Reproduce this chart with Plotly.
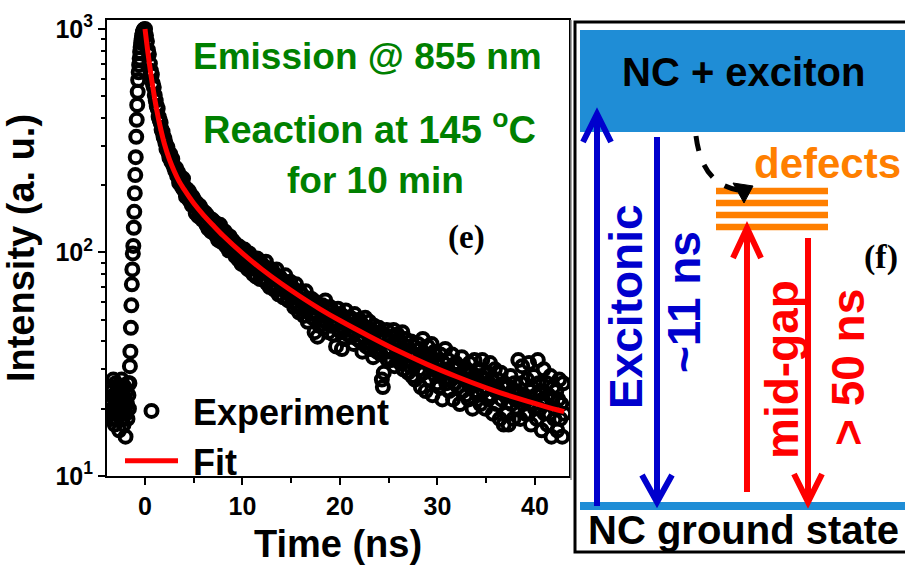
import numpy as np
import plotly.graph_objects as go

W, H = 905, 565
SANS = "Liberation Sans, Arial, sans-serif"
SERIF = "Liberation Serif, Times New Roman, serif"
GREEN = "#008000"
BLUE = "#0000CD"
RED = "#FF0000"
ORANGE = "#FF7F00"
BAND = "#1F8DD6"

# ---------------- time-resolved PL decay (photon counts) ----------------
pre_t0, rise_t0, decay_t0 = -3.6, -1.6, 0.1
fine_step, coarse_step = 0.05, 0.1

pre_counts = [22, 19, 25, 21, 18, 24, 20, 27, 23, 19, 17, 22, 26, 20, 18, 23, 21, 25, 19, 16,
              22, 24, 20, 18, 27, 21, 19, 23, 17, 20, 25, 22, 15, 19, 24, 21, 18, 26, 23, 20]

rise_counts = [26, 31, 36, 46, 58, 72, 84, 99, 107, 129,
               152, 184, 222, 267, 329, 392, 457, 523, 591, 640,
               690, 738, 789, 828, 866, 901, 930, 955, 972, 986,
               995, 992, 1000]

decay_counts = [
    935, 880, 805, 770, 700, 650, 625, 570, 548, 505,
    478, 452, 440, 405, 392, 380, 355, 347, 330, 322,
    308, 290, 296, 280, 266, 275, 255, 262, 246, 240,
    232, 238, 220, 228, 205, 219, 210, 196, 214, 190,
    195, 178, 192, 176, 188, 170, 181, 163, 177, 172,
    170, 150, 166, 158, 145, 162, 149, 156, 140, 152,
    139, 150, 133, 146, 128, 142, 137, 124, 140, 130,
    124, 136, 119, 131, 114, 127, 133, 112, 122, 117,
    112, 124, 107, 119, 115, 102, 118, 109, 104, 113,
    101, 110, 96, 108, 99, 93, 106, 98, 89, 102,
    94, 103, 87, 97, 91, 84, 99, 90, 95, 86,
    80, 92, 86, 78, 94, 83, 88, 76, 90, 81,
    87, 76, 82, 91, 73, 80, 85, 70, 79, 84,
    72, 81, 68, 76, 84, 70, 65, 78, 73, 69,
    75, 63, 70, 79, 66, 72, 61, 68, 74, 64,
    60, 69, 57, 65, 72, 58, 63, 54, 67, 61,
    56, 64, 52, 60, 67, 55, 49, 62, 58, 53,
    62, 51, 57, 44, 60, 54, 42, 58, 47, 55,
    50, 58, 46, 53, 61, 49, 55, 44, 52, 57,
    47, 55, 43, 50, 53, 38, 48, 56, 45, 51,
    44, 37, 52, 46, 41, 55, 48, 43, 50, 45,
    51, 42, 47, 39, 53, 44, 48, 41, 46, 50,
    40, 48, 36, 45, 42, 51, 38, 46, 43, 49,
    37, 45, 41, 34, 47, 39, 44, 36, 42, 46,
    43, 35, 27, 25, 29, 41, 37, 45, 33, 40,
    36, 42, 33, 39, 45, 31, 38, 35, 43, 34,
    39, 32, 37, 44, 30, 35, 41, 33, 38, 29,
    36, 31, 40, 28, 34, 38, 27, 35, 32, 39,
    30, 37, 25, 33, 41, 29, 35, 24, 32, 38,
    34, 27, 31, 39, 23, 30, 36, 28, 33, 26,
    31, 25, 35, 28, 22, 32, 29, 37, 26, 30,
    33, 24, 29, 27, 35, 22, 30, 26, 32, 28,
    25, 31, 21, 28, 34, 24, 27, 30, 23, 29,
    27, 22, 32, 25, 29, 20, 26, 33, 24, 28,
    23, 30, 26, 21, 28, 33, 24, 27, 20, 25,
    29, 22, 26, 32, 23, 27, 19, 25, 30, 24,
    21, 27, 24, 18, 29, 22, 25, 17, 26, 23,
    19, 25, 17, 23, 28, 21, 24, 18, 26, 22,
    24, 20, 33, 22, 18, 26, 31, 21, 23, 19,
    22, 27, 19, 32, 24, 17, 25, 21, 28, 20,
    23, 18, 33, 26, 20, 24, 16, 22, 30, 19,
    21, 26, 17, 23, 19, 28, 15, 22, 25, 18,
    20, 24, 16, 22, 27, 18, 21, 15, 26, 19,
]

fit_t = [0, 0.2, 0.4, 0.6, 0.8, 1.0, 1.3, 1.6, 2.0, 2.5, 3.0, 3.5, 4.0, 5.0, 6.0, 7.0,
         8.0, 10, 12, 14, 16, 18, 20, 23, 26, 29, 32, 35, 38, 41, 43]
fit_counts = [1000, 848, 726, 628, 550, 486, 413, 358, 305, 261, 231, 208, 192, 166, 147, 132,
              119, 99, 84, 72.4, 63.2, 55.7, 49.6, 42.2, 36.2, 31.5, 27.8, 24.8, 22.4, 20.5, 19.4]

x_ticks = [0, 10, 20, 30, 40]
x_minor = [5, 15, 25, 35]
y_ticks = [10, 100, 1000]
y_ticktext = ["10<sup>1</sup>", "10<sup>2</sup>", "10<sup>3</sup>"]
y_minor = [m * 10 ** k for k in (1, 2) for m in range(2, 10)]

t_pre = pre_t0 + fine_step * np.arange(len(pre_counts))
t_rise = rise_t0 + fine_step * np.arange(len(rise_counts))
t_decay = decay_t0 + coarse_step * np.arange(len(decay_counts))
t_exp = np.round(np.concatenate([t_pre, t_rise, t_decay]), 3)
c_exp = np.concatenate([pre_counts, rise_counts, decay_counts])

fig = go.Figure()
fig.add_trace(go.Scatter(
    x=t_exp, y=c_exp, mode="markers", name="&nbsp;Experiment",
    marker=dict(symbol="circle-open", size=12, color="black", line=dict(width=4, color="black")),
))
fig.add_trace(go.Scatter(
    x=fit_t, y=fit_counts, mode="lines", name="&nbsp;Fit",
    line=dict(color=RED, width=5, shape="spline", smoothing=0.8),
))


def px(x):
    return x / W


def py(y):
    return 1 - y / H


tickfont = dict(family=SANS, size=25, color="black", weight="bold")
fig.update_layout(
    width=W, height=H,
    margin=dict(l=0, r=0, t=0, b=0, autoexpand=False),
    paper_bgcolor="white", plot_bgcolor="white",
    showlegend=True,
    legend=dict(x=px(120), y=py(381), xanchor="left", yanchor="top",
                bgcolor="rgba(0,0,0,0)", font=dict(family=SANS, size=36, color="black", weight="bold"),
                itemwidth=53, tracegroupgap=0),
    xaxis=dict(
        domain=[px(107), px(569)], range=[-3.9, 43.5],
        showline=True, linecolor="black", linewidth=2, mirror=True,
        showgrid=False, zeroline=False, automargin=False,
        ticks="outside", ticklen=7, tickwidth=2, tickcolor="black",
        tickmode="array", tickvals=x_ticks, tickfont=tickfont,
        minor=dict(tickmode="array", tickvals=x_minor, ticks="outside", ticklen=5,
                   tickwidth=2, tickcolor="black", showgrid=False),
        title=dict(text="Time (ns)", font=dict(family=SANS, size=38, color="black", weight="bold"),
                   standoff=15),
    ),
    yaxis=dict(
        type="log", domain=[py(476), py(20)], range=[1, 3.04],
        showline=True, linecolor="black", linewidth=2, mirror=True,
        showgrid=False, zeroline=False, automargin=False,
        ticks="outside", ticklen=7, tickwidth=2, tickcolor="black",
        tickmode="array", tickvals=y_ticks, ticktext=y_ticktext, tickfont=tickfont,
        minor=dict(tickmode="array", tickvals=y_minor, ticks="outside", ticklen=4,
                   tickwidth=1.5, tickcolor="black", showgrid=False),
        title=dict(text="Intensity (a. u.)", font=dict(family=SANS, size=38, color="black", weight="bold"),
                   standoff=9),
    ),
)


def label(text, x, y, size, color="black", family=SANS, angle=0, xanchor="center"):
    fig.add_annotation(text=text, x=px(x), y=py(y), xref="paper", yref="paper",
                       xanchor=xanchor, yanchor="middle", textangle=angle, showarrow=False,
                       font=dict(family=family, size=size, color=color, weight="bold"))


# panel (e) captions
label("Emission @ 855 nm", 367, 57, 37, GREEN)
label("Reaction at 145 <sup>o</sup>C", 369, 127, 38, GREEN)
label("for 10 min", 375, 180, 37, GREEN)
label("(e)", 466, 237, 33, family=SERIF)

# ---------------- panel (f): energy-level scheme ----------------
shapes = []


def rect(x0, y0, x1, y1, fill=None, line=None, lw=0):
    shapes.append(dict(type="rect", xref="paper", yref="paper",
                       x0=px(x0), x1=px(x1), y0=py(y1), y1=py(y0),
                       fillcolor=fill if fill else "rgba(0,0,0,0)",
                       line=dict(color=line if line else "rgba(0,0,0,0)", width=lw), layer="above"))


def path(d_points, color, width, dash="solid", fill=None, closed=False):
    d = "M " + " L ".join(f"{px(x):.5f},{py(y):.5f}" for x, y in d_points)
    if closed:
        d += " Z"
    shapes.append(dict(type="path", xref="paper", yref="paper", path=d,
                       line=dict(color=color, width=width, dash=dash),
                       fillcolor=fill if fill else "rgba(0,0,0,0)", layer="above"))


def arrow(x, y_from, y_to, color, half=14, length=28):
    sgn = 1 if y_to < y_from else -1
    path([(x, y_from), (x, y_to)], color, 6)
    path([(x - half, y_to + sgn * length), (x, y_to), (x + half, y_to + sgn * length)], color, 6)


# frame of the scheme
path([(571, 20), (571, 480)], "#888888", 1.5)
rect(575, 22, 915, 552, line="black", lw=3)
# exciton band and ground-state level
rect(580, 30, 910, 132, fill=BAND)
rect(580, 502, 910, 510, fill=BAND)
# defect (mid-gap) levels
for yc in (191, 203, 215, 227):
    rect(716, yc - 3.2, 828, yc + 3.2, fill=ORANGE)

# transitions
arrow(597, 506, 114, BLUE, 14, 28)
arrow(657, 137, 502, BLUE, 15, 27)
arrow(747, 492, 228, RED, 14, 30)
arrow(808, 238, 502, RED, 14, 28)

# trapping into defect states (dashed curved arrow)
curve = "M {:.5f},{:.5f} Q {:.5f},{:.5f} {:.5f},{:.5f}".format(
    px(696), py(136), px(702), py(184), px(738), py(190))
shapes.append(dict(type="path", xref="paper", yref="paper", path=curve,
                   line=dict(color="black", width=5, dash="dash"), layer="above"))
path([(733, 183), (753, 186), (744, 203)], "black", 1, fill="black", closed=True)

fig.update_layout(shapes=shapes)

label("NC + exciton", 743, 72, 40)
label("defects", 752, 163, 42, ORANGE, xanchor="left")
label("Excitonic", 626, 307, 46, BLUE, angle=-90)
label("~11 ns", 684, 302, 46, BLUE, angle=-90)
label("mid-gap", 782, 370, 46, RED, angle=-90)
label("&gt; 50 ns", 848, 368, 46, RED, angle=-90)
label("(f)", 881, 257, 34, family=SERIF)
label("NC ground state", 586, 530, 40, xanchor="left")

fig.write_html("out.html")
